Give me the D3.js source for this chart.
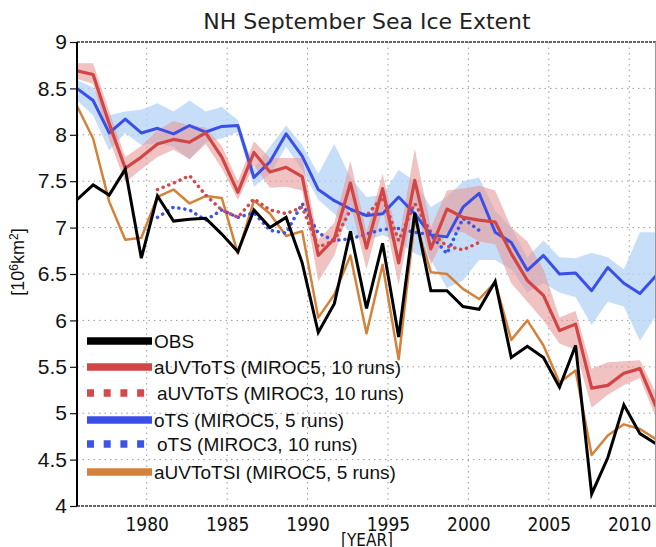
<!DOCTYPE html>
<html>
<head>
<meta charset="utf-8">
<script src="https://cdn.jsdelivr.net/npm/d3@7"></script>
<style>
  body { margin: 0; background: #fff; }
  .grid line { stroke: #9a9a9a; stroke-width: 1; stroke-dasharray: 1.5,4; }
  .ytick text { font-family: "Liberation Sans", Arial, sans-serif; font-size: 21px; fill: #111; }
  .xtick text { font-family: "DejaVu Sans", sans-serif; font-stretch: condensed; font-size: 19px; fill: #111; }
</style>
</head>
<body>
<div id="chart"></div>
<script>
// years (September values)
const years = d3.range(1975, 2012);
const years3 = d3.range(1980, 2001);

// observed
const obs = [7.30, 7.46, 7.35, 7.63, 6.67, 7.34, 7.07, 7.09, 7.10, 6.93,
             6.74, 7.19, 7.00, 7.11, 6.62, 5.87, 6.18, 6.96, 6.13, 6.83,
             5.82, 7.16, 6.32, 6.32, 6.15, 6.12, 6.42, 5.60, 5.72, 5.60,
             5.28, 5.73, 4.13, 4.52, 5.09, 4.78, 4.67];
// aUVToTS MIROC5 mean + spread
const red5 = [8.69, 8.65, 8.12, 7.64, 7.76, 7.90, 7.95, 7.92, 8.02, 7.76,
              7.38, 7.81, 7.60, 7.65, 7.55, 6.70, 6.88, 7.48, 6.78, 7.42,
              6.62, 7.51, 6.77, 7.20, 7.11, 7.08, 7.06, 6.72, 6.43, 6.27,
              5.89, 5.96, 5.27, 5.30, 5.43, 5.48, 5.07];
const red5Hi = [8.77, 8.77, 8.25, 7.76, 7.88, 8.05, 8.15, 8.10, 8.08, 7.88,
                7.50, 7.93, 7.75, 7.75, 7.75, 6.87, 7.05, 7.72, 6.95, 7.58,
                6.85, 7.85, 7.00, 7.40, 7.42, 7.45, 7.40, 7.00, 6.85, 6.55,
                6.03, 6.10, 5.48, 5.55, 5.56, 5.57, 5.22];
const red5Lo = [8.60, 8.55, 7.95, 7.49, 7.63, 7.76, 7.84, 7.74, 7.90, 7.64,
                7.30, 7.67, 7.43, 7.44, 7.40, 6.42, 6.70, 7.25, 6.55, 7.20,
                6.38, 7.30, 6.60, 6.95, 6.95, 6.85, 6.82, 6.40, 6.20, 6.00,
                5.75, 5.68, 5.06, 5.20, 5.30, 5.38, 4.95];
// oTS MIROC5 mean + spread
const blue5 = [8.50, 8.37, 8.02, 8.17, 8.02, 8.07, 8.01, 8.10, 8.03, 8.09,
               8.10, 7.54, 7.71, 8.01, 7.77, 7.41, 7.29, 7.20, 7.13, 7.15,
               7.33, 7.15, 6.92, 6.90, 7.22, 7.37, 6.95, 6.84, 6.54, 6.70,
               6.50, 6.51, 6.32, 6.57, 6.40, 6.29, 6.48];
const blue5Hi = [8.59, 8.51, 8.21, 8.25, 8.27, 8.34, 8.25, 8.37, 8.25, 8.30,
                 8.16, 7.64, 7.87, 8.10, 7.89, 7.58, 7.90, 7.54, 7.33, 7.35,
                 7.62, 7.50, 7.22, 7.33, 7.50, 7.54, 7.18, 7.00, 6.68, 6.86,
                 6.68, 6.67, 6.73, 6.68, 6.55, 6.95, 6.95];
const blue5Lo = [8.37, 8.21, 7.83, 8.02, 7.89, 7.91, 7.87, 7.73, 7.92, 7.96,
                 8.03, 7.44, 7.58, 7.87, 7.62, 7.30, 7.15, 6.94, 6.86, 6.92,
                 6.84, 6.72, 6.65, 6.35, 6.43, 6.65, 6.65, 6.55, 6.30, 6.40,
                 6.30, 6.25, 5.95, 6.20, 6.15, 5.78, 6.05];
// aUVToTSI MIROC5
const orange5 = [8.31, 7.96, 7.28, 6.87, 6.89, 7.33, 7.41, 7.26, 7.34, 7.32,
                 6.72, 7.29, 7.15, 6.91, 6.96, 6.03, 6.28, 6.70, 5.86, 6.60,
                 5.58, 7.09, 6.52, 6.50, 6.34, 6.23, 6.41, 5.79, 6.00, 5.73,
                 5.33, 5.46, 4.55, 4.76, 4.88, 4.83, 4.72];
// MIROC3 runs (1980-2000)
const red3 = [7.41, 7.48, 7.56, 7.35, 7.19, 7.11, 7.31, 7.19, 7.15, 7.22,
              6.79, 6.86, 7.19, 7.13, 7.33, 6.86, 7.26, 6.95, 6.80, 6.76, 6.84];
const blue3 = [7.11, 7.22, 7.19, 7.08, 7.19, 7.11, 7.16, 6.97, 6.94, 7.26,
               6.94, 6.86, 6.88, 6.93, 6.98, 6.99, 6.95, 6.92, 6.72, 7.10, 6.97];

const yTicks = d3.range(4, 9.01, 0.5);
const xTickYears = [1980, 1985, 1990, 1995, 2000, 2005, 2010];
const legendLabels = ['OBS', 'aUVToTS (MIROC5, 10 runs)', 'aUVToTS (MIROC3, 10 runs)',
                      'oTS (MIROC5, 5 runs)', 'oTS (MIROC3, 10 runs)', 'aUVToTSI (MIROC5, 5 runs)'];

const width = 656, height = 547;
const pLeft = 77, pRight = 656, pTop = 42, pBottom = 506;

const svg = d3.select('#chart').append('svg')
  .attr('width', width)
  .attr('height', height);

const sep = yr => new Date(yr, 8, 1);
const x = d3.scaleTime().domain([sep(1975), sep(2011)]).range([pLeft, pRight]);
const y = d3.scaleLinear().domain([4, 9]).range([pBottom, pTop]);

svg.append('clipPath').attr('id', 'clip')
  .append('rect').attr('x', pLeft).attr('y', pTop).attr('width', pRight - pLeft).attr('height', pBottom - pTop);

// grid
const grid = svg.append('g').attr('class', 'grid');
grid.selectAll('.h').data(yTicks.filter(v => v > 4 && v < 9)).enter()
  .append('line')
  .attr('x1', pLeft).attr('x2', pRight)
  .attr('y1', d => y(d)).attr('y2', d => y(d));
grid.selectAll('.v').data(xTickYears).enter()
  .append('line')
  .attr('x1', d => x(new Date(d, 0, 1))).attr('x2', d => x(new Date(d, 0, 1)))
  .attr('y1', pTop).attr('y2', pBottom);

const plot = svg.append('g').attr('clip-path', 'url(#clip)');

const rows = years.map((yr, i) => ({
  yr, obs: obs[i], red5: red5[i], rHi: red5Hi[i], rLo: red5Lo[i],
  blue5: blue5[i], bHi: blue5Hi[i], bLo: blue5Lo[i], orange5: orange5[i]
}));
const rows3 = years3.map((yr, i) => ({ yr, red3: red3[i], blue3: blue3[i] }));

const band = (lo, hi) => d3.area()
  .x(d => x(sep(d.yr))).y0(d => y(d[lo])).y1(d => y(d[hi]));
const line = key => d3.line().x(d => x(sep(d.yr))).y(d => y(d[key]));

// spreads
plot.append('path').datum(rows).attr('d', band('bLo', 'bHi'))
  .attr('fill', '#b3d3f6').attr('fill-opacity', 0.75);
plot.append('path').datum(rows).attr('d', band('rLo', 'rHi'))
  .attr('fill', '#e79a9a').attr('fill-opacity', 0.6);

// lines
plot.append('path').datum(rows).attr('d', line('orange5'))
  .attr('fill', 'none').attr('stroke', '#d4823a').attr('stroke-width', 2.5).attr('stroke-linejoin', 'round');
plot.append('path').datum(rows3).attr('d', line('blue3'))
  .attr('fill', 'none').attr('stroke', '#3d55e6').attr('stroke-width', 3.5)
  .attr('stroke-linecap', 'round').attr('stroke-dasharray', '0.1,6');
plot.append('path').datum(rows3).attr('d', line('red3'))
  .attr('fill', 'none').attr('stroke', '#d24a4a').attr('stroke-width', 3.5)
  .attr('stroke-linecap', 'round').attr('stroke-dasharray', '0.1,6');
plot.append('path').datum(rows).attr('d', line('blue5'))
  .attr('fill', 'none').attr('stroke', '#3a4ee8').attr('stroke-width', 3).attr('stroke-linejoin', 'round');
plot.append('path').datum(rows).attr('d', line('red5'))
  .attr('fill', 'none').attr('stroke', '#d24545').attr('stroke-width', 3.2).attr('stroke-linejoin', 'round');
plot.append('path').datum(rows).attr('d', line('obs'))
  .attr('fill', 'none').attr('stroke', '#000').attr('stroke-width', 3).attr('stroke-linejoin', 'miter');

// frame
svg.append('line').attr('x1', pLeft).attr('x2', pRight).attr('y1', pTop).attr('y2', pTop)
  .attr('stroke', '#333').attr('stroke-width', 1.6).attr('stroke-dasharray', '3,1');
svg.append('line').attr('x1', pLeft).attr('x2', pRight).attr('y1', pBottom).attr('y2', pBottom)
  .attr('stroke', '#333').attr('stroke-width', 1.6).attr('stroke-dasharray', '3,1');
svg.append('line').attr('x1', pRight - 0.5).attr('x2', pRight - 0.5).attr('y1', pTop).attr('y2', pBottom)
  .attr('stroke', '#999').attr('stroke-width', 1);

// y axis
const yAxis = svg.append('g').attr('class', 'ytick')
  .attr('transform', `translate(${pLeft},0)`)
  .call(d3.axisLeft(y).tickValues(yTicks).tickSize(7).tickPadding(3).tickFormat(d => d));
yAxis.select('.domain').remove();
yAxis.selectAll('line').attr('stroke', '#111').attr('stroke-width', 1.2);
svg.append('line').attr('x1', pLeft).attr('x2', pLeft).attr('y1', pTop).attr('y2', pBottom)
  .attr('stroke', '#000').attr('stroke-width', 2);

// x axis
const xAxis = svg.append('g').attr('class', 'xtick')
  .attr('transform', `translate(0,${pBottom})`)
  .call(d3.axisBottom(x).tickValues(xTickYears.map(d => new Date(d, 0, 1)))
    .tickSize(0).tickPadding(12).tickFormat(d3.timeFormat('%Y')));
xAxis.select('.domain').remove();

// titles
svg.append('text')
  .attr('x', 367).attr('y', 29)
  .attr('text-anchor', 'middle')
  .style('font-family', 'DejaVu Sans, sans-serif')
  .style('font-size', '22px')
  .attr('fill', '#222')
  .text('NH September Sea Ice Extent');

svg.append('text')
  .attr('x', 367).attr('y', 546)
  .attr('text-anchor', 'middle')
  .style('font-family', 'DejaVu Sans, sans-serif')
  .style('font-stretch', 'condensed')
  .style('font-size', '17px')
  .attr('fill', '#111')
  .text('[YEAR]');

svg.append('text')
  .attr('transform', 'translate(24,262) rotate(-90)')
  .attr('text-anchor', 'middle')
  .style('font-family', 'Liberation Sans, Arial, sans-serif')
  .style('font-size', '18px')
  .attr('fill', '#111')
  .html('[10<tspan dy="-6" font-size="12">6</tspan><tspan dy="6">km</tspan><tspan dy="-6" font-size="12">2</tspan><tspan dy="6">]</tspan>');

// legend
const legendStyle = [
  { color: '#000', dash: null },
  { color: '#d24545', dash: null },
  { color: '#d24a4a', dash: '7,9.7' },
  { color: '#3a4ee8', dash: null },
  { color: '#3d55e6', dash: '7,9.7' },
  { color: '#d4823a', dash: null }
];
const legendY = [341, 367, 393, 420, 444, 472];
const legend = svg.append('g');
legendLabels.forEach((lab, i) => {
  legend.append('line')
    .attr('x1', 87).attr('x2', 152)
    .attr('y1', legendY[i]).attr('y2', legendY[i])
    .attr('stroke', legendStyle[i].color)
    .attr('stroke-width', 7.5)
    .attr('stroke-dasharray', legendStyle[i].dash);
  legend.append('text')
    .attr('x', legendStyle[i].dash ? 157 : 154)
    .attr('y', legendY[i])
    .attr('dy', '0.36em')
    .style('font-family', 'Liberation Sans, Arial, sans-serif')
    .style('font-size', '19px')
    .attr('fill', '#111')
    .text(lab);
});
</script>
</body>
</html>
